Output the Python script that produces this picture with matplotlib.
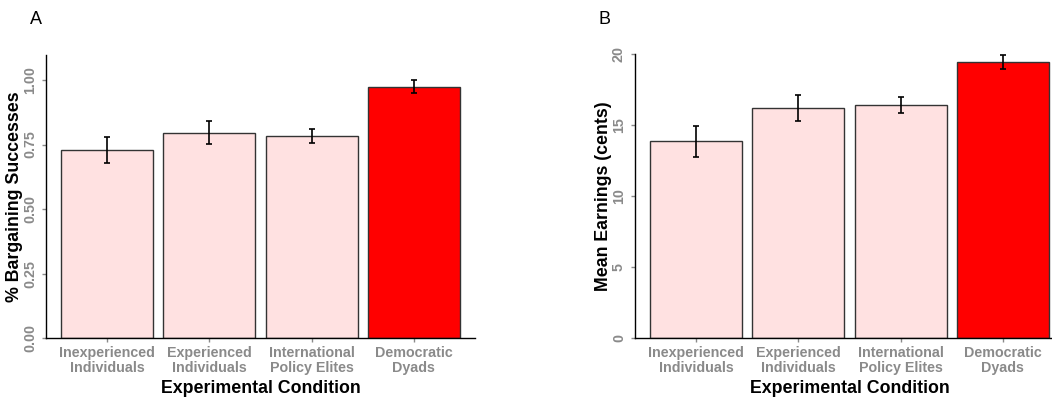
import matplotlib
matplotlib.use("Agg")
import matplotlib.pyplot as plt
import numpy as np

plt.rcParams['font.family'] = ['Liberation Sans', 'DejaVu Sans']

categories = ["Inexperienced\nIndividuals", "Experienced\nIndividuals",
              "International\nPolicy Elites", "Democratic\nDyads"]
success = [0.729, 0.796, 0.783, 0.974]
success_lo = [0.678, 0.752, 0.755, 0.950]
success_hi = [0.779, 0.841, 0.811, 1.000]
earnings = [13.84, 16.20, 16.41, 19.41]
earnings_lo = [12.77, 15.30, 15.87, 18.94]
earnings_hi = [14.90, 17.08, 16.97, 19.90]
colors = ["#FFE1E1", "#FFE1E1", "#FFE1E1", "#FF0000"]

W, H = 1052, 397
fig = plt.figure(figsize=(W / 100, H / 100), dpi=100)

def px_axes(x0, x1, y_top, y_bot):
    return fig.add_axes([x0 / W, 1 - y_bot / H, (x1 - x0) / W, (y_bot - y_top) / H])

gray = "#8a8a8a"

def draw(ax, vals, lo, hi, ylim, yticks, yticklabels, ylabel):
    x = np.arange(len(categories))
    ax.bar(x, vals, width=0.9, color=colors, edgecolor="#333333", linewidth=1.0, zorder=2)
    yerr = [np.array(vals) - np.array(lo), np.array(hi) - np.array(vals)]
    ax.errorbar(x, vals, yerr=yerr, fmt="none", ecolor="black", elinewidth=1.2,
                capsize=2.4, capthick=1.2, zorder=3)
    ax.set_xlim(-0.6, len(categories) - 0.4)
    ax.set_ylim(*ylim)
    ax.set_yticks(yticks)
    ax.set_yticklabels(yticklabels, rotation=90, va="center", color=gray,
                       fontsize=10.3, fontweight="bold")
    ax.set_xticks(x)
    ax.set_xticklabels(categories, color=gray, fontsize=10.3, fontweight="bold",
                       linespacing=1.05)
    ax.tick_params(axis="both", color=gray, length=3, width=1)
    ax.tick_params(axis="x", pad=3)
    ax.tick_params(axis="y", pad=3.5)
    for s in ["top", "right"]:
        ax.spines[s].set_visible(False)
    for s in ["left", "bottom"]:
        ax.spines[s].set_color("black")
        ax.spines[s].set_linewidth(1.0)
    ax.set_xlabel("Experimental Condition", fontsize=12.8, fontweight="bold", labelpad=4)
    ax.set_ylabel(ylabel, fontsize=12.8, fontweight="bold", labelpad=0)

axA = px_axes(46, 475, 55, 338)
draw(axA, success, success_lo, success_hi, (0, 1.097),
     [0, 0.25, 0.5, 0.75, 1.0], ["0.00", "0.25", "0.50", "0.75", "1.00"],
     "% Bargaining Successes")

axB = px_axes(635, 1064, 54, 338)
draw(axB, earnings, earnings_lo, earnings_hi, (0, 20.0),
     [0, 5, 10, 15, 20], ["0", "5", "10", "15", "20"],
     "Mean Earnings (cents)")

fig.text(30 / W, 1 - 19 / H, "A", fontsize=13, va="center", ha="left")
fig.text(598 / W, 1 - 19 / H, "B", fontsize=13, va="center", ha="left")

fig.savefig("out.png", dpi=100)
